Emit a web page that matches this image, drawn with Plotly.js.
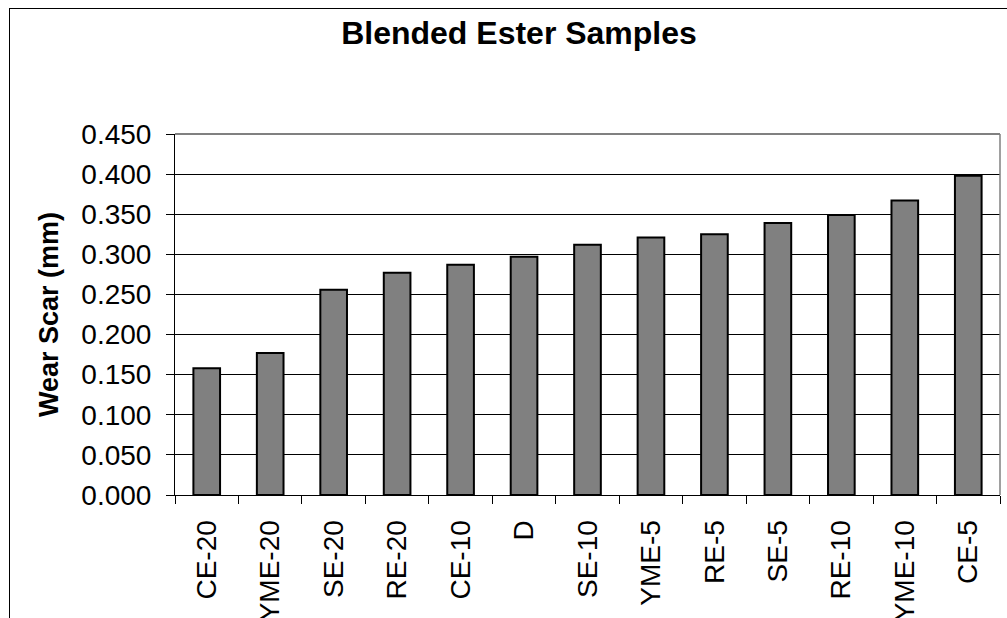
<!DOCTYPE html>
<html>
<head>
<meta charset="utf-8">
<script src="https://cdn.plot.ly/plotly-3.0.1.min.js"></script>
<style>
  html, body { margin: 0; padding: 0; background: #fff; overflow: hidden; }
  #wrap { position: relative; width: 1007px; height: 618px; overflow: hidden; }
  #chart { position: absolute; left: 0; top: 0; width: 1007px; height: 618px; }
  #frame { position: absolute; left: 9px; top: 8px; width: 1100px; height: 700px;
           border: 1px solid #000; pointer-events: none; }
</style>
</head>
<body>
<div id="wrap">
  <div id="chart"></div>
  <div id="frame"></div>
</div>
<script>
// Blend samples, ordered by wear scar diameter
const samples = ["CE-20", "YME-20", "SE-20", "RE-20", "CE-10", "D", "SE-10",
                 "YME-5", "RE-5", "SE-5", "RE-10", "YME-10", "CE-5"];
// Wear scar (mm)
const wearScar = [0.158, 0.177, 0.256, 0.277, 0.287, 0.297, 0.312,
                  0.321, 0.325, 0.339, 0.349, 0.367, 0.398];
const yTickVals = [0, 0.05, 0.10, 0.15, 0.20, 0.25, 0.30, 0.35, 0.40, 0.45];

const FONT = "'Liberation Sans', Arial, Helvetica, sans-serif";

const trace = {
  type: "bar",
  x: samples,
  y: wearScar,
  marker: { color: "#808080", line: { color: "#000", width: 2 } },
  hoverinfo: "x+y"
};

const layout = {
  width: 1007,
  height: 618,
  margin: { l: 175, r: 7, t: 134, b: 123 },
  paper_bgcolor: "#fff",
  plot_bgcolor: "#fff",
  font: { family: FONT, color: "#000", size: 28 },
  showlegend: false,
  bargap: 0.58,
  title: {
    text: "<b>Blended Ester Samples</b>",
    font: { family: FONT, size: 32, color: "#000" },
    xref: "container", yref: "container",
    x: 519 / 1007, xanchor: "center",
    y: 1 - 33 / 618, yanchor: "middle"
  },
  xaxis: {
    type: "category",
    tickangle: -90,
    tickson: "boundaries",
    ticks: "outside",
    ticklen: 8,
    tickwidth: 1,
    tickcolor: "#000",
    showline: true,
    linecolor: "#000",
    linewidth: 1,
    showgrid: false,
    zeroline: false,
    tickfont: { family: FONT, size: 28, color: "#000" },
    ticklabelstandoff: 13
  },
  yaxis: {
    range: [0, 0.45],
    tickvals: yTickVals,
    tickformat: ".3f",
    ticks: "outside",
    ticklen: 8,
    tickwidth: 1,
    tickcolor: "#000",
    showline: true,
    linecolor: "#000",
    linewidth: 1,
    showgrid: true,
    gridcolor: "#000",
    gridwidth: 1,
    zeroline: false,
    tickfont: { family: FONT, size: 28, color: "#000" },
    ticklabelstandoff: 9,
    title: {
      text: "<b>Wear Scar (mm)</b>",
      font: { family: FONT, size: 27, color: "#000" },
      standoff: 14
    }
  },
  shapes: [
    // grey plot-area border along the top and right edges
    { type: "line", xref: "paper", yref: "paper", x0: 0, x1: 1, y0: 1, y1: 1,
      line: { color: "#808080", width: 2 }, layer: "above" },
    { type: "line", xref: "paper", yref: "paper", x0: 1, x1: 1, y0: 0, y1: 1,
      line: { color: "#808080", width: 1.5 }, layer: "above" }
  ]
};

Plotly.newPlot("chart", [trace], layout, { staticPlot: true, displayModeBar: false });
</script>
</body>
</html>
